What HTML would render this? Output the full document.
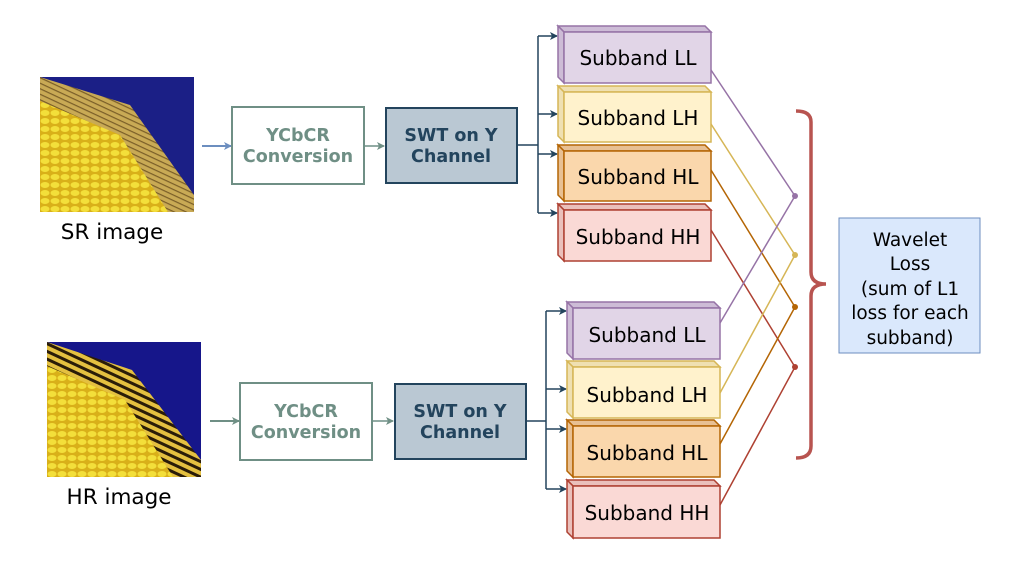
<!DOCTYPE html>
<html><head><meta charset="utf-8"><style>
html,body{margin:0;padding:0;background:#fff;}
svg{display:block;font-family:"DejaVu Sans","Liberation Sans",sans-serif;}
</style></head><body>
<svg width="1016" height="562" viewBox="0 0 1016 562" xmlns="http://www.w3.org/2000/svg">
<defs>
<pattern id="tiles" width="10" height="8" patternUnits="userSpaceOnUse">
<rect width="10" height="8" fill="#d9b019"/>
<ellipse cx="5" cy="4" rx="4.5" ry="3" fill="#f3df3a"/>
</pattern>
<pattern id="stripes" width="5" height="5" patternUnits="userSpaceOnUse" patternTransform="rotate(25)">
<rect width="5" height="5" fill="#c9aa55"/><rect width="5" height="1.2" fill="#7a5e28"/>
</pattern>
<pattern id="stripes2" width="7" height="7" patternUnits="userSpaceOnUse" patternTransform="rotate(25)">
<rect width="7" height="7" fill="#e4c040"/><rect width="7" height="3" fill="#2a1c08"/>
</pattern>
<marker id="ab" markerWidth="8" markerHeight="8" refX="7" refY="4" orient="auto" markerUnits="userSpaceOnUse"><path d="M0,0 L8,4 L0,8 L2,4Z" fill="#6c8ebf"/></marker>
<marker id="ag" markerWidth="8" markerHeight="8" refX="7" refY="4" orient="auto" markerUnits="userSpaceOnUse"><path d="M0,0 L8,4 L0,8 L2,4Z" fill="#6f8f85"/></marker>
<marker id="ad" markerWidth="8" markerHeight="8" refX="7" refY="4" orient="auto" markerUnits="userSpaceOnUse"><path d="M0,0 L8,4 L0,8 L2,4Z" fill="#23445d"/></marker>
</defs>

<g transform="translate(40,77)">
<rect width="154" height="135" fill="#1b1f86"/>
<polygon points="0,0 90,28 154,118 154,135 0,135" fill="url(#stripes)"/>
<polygon points="0,24 80,58 128,135 0,135" fill="url(#tiles)"/>
</g>
<text x="112" y="239" font-size="21.5" text-anchor="middle" fill="#000">SR image</text>

<g transform="translate(47,342)">
<rect width="154" height="135" fill="#16168a"/>
<polygon points="0,0 85,28 154,118 154,135 0,135" fill="url(#stripes2)"/>
<polygon points="0,24 78,58 126,135 0,135" fill="url(#tiles)"/>
</g>
<text x="119" y="504" font-size="21.5" text-anchor="middle" fill="#000">HR image</text>

<line x1="202" y1="146" x2="231" y2="146" stroke="#6c8ebf" stroke-width="2" marker-end="url(#ab)"/>
<rect x="232" y="107" width="132" height="77" fill="#fff" stroke="#6f8f85" stroke-width="2"/>
<text x="298" y="141" font-size="17.5" font-weight="bold" fill="#6f8f85" text-anchor="middle">YCbCR</text>
<text x="298" y="162" font-size="17.5" font-weight="bold" fill="#6f8f85" text-anchor="middle">Conversion</text>
<line x1="364" y1="146" x2="384" y2="146" stroke="#6f8f85" stroke-width="1.5" marker-end="url(#ag)"/>
<rect x="386" y="108" width="131" height="75" fill="#bac8d3" stroke="#23445d" stroke-width="2"/>
<text x="451" y="141" font-size="17.5" font-weight="bold" fill="#23445d" text-anchor="middle">SWT on Y</text>
<text x="451" y="162" font-size="17.5" font-weight="bold" fill="#23445d" text-anchor="middle">Channel</text>
<g stroke="#23445d" stroke-width="1.5" fill="none">
<polyline points="517,145 538,145"/>
<line x1="538" y1="36" x2="538" y2="213"/>
<line x1="538" y1="36" x2="557" y2="36" marker-end="url(#ad)"/>
<line x1="538" y1="114" x2="557" y2="114" marker-end="url(#ad)"/>
<line x1="538" y1="154" x2="557" y2="154" marker-end="url(#ad)"/>
<line x1="538" y1="213" x2="557" y2="213" marker-end="url(#ad)"/>
</g>

<line x1="210" y1="421" x2="239" y2="421" stroke="#6f8f85" stroke-width="2" marker-end="url(#ag)"/>
<rect x="240" y="383" width="132" height="77" fill="#fff" stroke="#6f8f85" stroke-width="2"/>
<text x="306" y="417" font-size="17.5" font-weight="bold" fill="#6f8f85" text-anchor="middle">YCbCR</text>
<text x="306" y="438" font-size="17.5" font-weight="bold" fill="#6f8f85" text-anchor="middle">Conversion</text>
<line x1="372" y1="421" x2="393" y2="421" stroke="#6f8f85" stroke-width="1.5" marker-end="url(#ag)"/>
<rect x="395" y="384" width="131" height="75" fill="#bac8d3" stroke="#23445d" stroke-width="2"/>
<text x="460" y="417" font-size="17.5" font-weight="bold" fill="#23445d" text-anchor="middle">SWT on Y</text>
<text x="460" y="438" font-size="17.5" font-weight="bold" fill="#23445d" text-anchor="middle">Channel</text>
<g stroke="#23445d" stroke-width="1.5" fill="none">
<polyline points="526,421 546,421"/>
<line x1="546" y1="311" x2="546" y2="489"/>
<line x1="546" y1="311" x2="566" y2="311" marker-end="url(#ad)"/>
<line x1="546" y1="389" x2="566" y2="389" marker-end="url(#ad)"/>
<line x1="546" y1="429" x2="566" y2="429" marker-end="url(#ad)"/>
<line x1="546" y1="489" x2="566" y2="489" marker-end="url(#ad)"/>
</g>

<g stroke-width="1.5" fill="none">
<line x1="711" y1="70" x2="795" y2="196" stroke="#9673a6"/>
<line x1="711" y1="124" x2="795" y2="255" stroke="#d6b656"/>
<line x1="711" y1="170" x2="795" y2="307" stroke="#b46504"/>
<line x1="711" y1="230" x2="795" y2="367" stroke="#ae4132"/>
<line x1="720" y1="323" x2="795" y2="196" stroke="#9673a6"/>
<line x1="720" y1="393" x2="795" y2="255" stroke="#d6b656"/>
<line x1="720" y1="444" x2="795" y2="307" stroke="#b46504"/>
<line x1="720" y1="505" x2="795" y2="367" stroke="#ae4132"/>
</g>
<circle cx="795" cy="196" r="3" fill="#9673a6"/>
<circle cx="795" cy="255" r="3" fill="#d6b656"/>
<circle cx="795" cy="307" r="3" fill="#b46504"/>
<circle cx="795" cy="367" r="3" fill="#ae4132"/>

<g font-size="20" text-anchor="middle" fill="#000">
<g stroke="#9673a6" stroke-width="1.5"><polygon points="558,26 705,26 711,32 564,32" fill="#cdbcd6"/><polygon points="558,26 564,32 564,83 558,77" fill="#cdbcd6"/><rect x="564" y="32" width="147" height="51" fill="#e1d5e7"/></g>
<text x="638" y="65">Subband LL</text>
<g stroke="#d6b656" stroke-width="1.5"><polygon points="558,86 705,86 711,92 564,92" fill="#efe0b2"/><polygon points="558,86 564,92 564,142 558,136" fill="#efe0b2"/><rect x="564" y="92" width="147" height="50" fill="#fff2cc"/></g>
<text x="638" y="125">Subband LH</text>
<g stroke="#b46504" stroke-width="1.5"><polygon points="558,145 705,145 711,151 564,151" fill="#e8c093"/><polygon points="558,145 564,151 564,201 558,195" fill="#e8c093"/><rect x="564" y="151" width="147" height="50" fill="#fad7ac"/></g>
<text x="638" y="184">Subband HL</text>
<g stroke="#ae4132" stroke-width="1.5"><polygon points="558,204 705,204 711,210 564,210" fill="#eac0bb"/><polygon points="558,204 564,210 564,261 558,255" fill="#eac0bb"/><rect x="564" y="210" width="147" height="51" fill="#fad9d5"/></g>
<text x="638" y="244">Subband HH</text>
<g stroke="#9673a6" stroke-width="1.5"><polygon points="567,302 714,302 720,308 573,308" fill="#cdbcd6"/><polygon points="567,302 573,308 573,359 567,353" fill="#cdbcd6"/><rect x="573" y="308" width="147" height="51" fill="#e1d5e7"/></g>
<text x="647" y="342">Subband LL</text>
<g stroke="#d6b656" stroke-width="1.5"><polygon points="567,361 714,361 720,367 573,367" fill="#efe0b2"/><polygon points="567,361 573,367 573,418 567,412" fill="#efe0b2"/><rect x="573" y="367" width="147" height="51" fill="#fff2cc"/></g>
<text x="647" y="402">Subband LH</text>
<g stroke="#b46504" stroke-width="1.5"><polygon points="567,420 714,420 720,426 573,426" fill="#e8c093"/><polygon points="567,420 573,426 573,477 567,471" fill="#e8c093"/><rect x="573" y="426" width="147" height="51" fill="#fad7ac"/></g>
<text x="647" y="460">Subband HL</text>
<g stroke="#ae4132" stroke-width="1.5"><polygon points="567,480 714,480 720,486 573,486" fill="#eac0bb"/><polygon points="567,480 573,486 573,538 567,532" fill="#eac0bb"/><rect x="573" y="486" width="147" height="52" fill="#fad9d5"/></g>
<text x="647" y="520">Subband HH</text>
</g>

<path d="M796,111 Q811,111 811,122 L811,272 Q811,284 826,284 Q811,284 811,296 L811,446 Q811,458 796,458" fill="none" stroke="#b85450" stroke-width="3.5"/>

<rect x="839" y="218" width="141" height="135" fill="#dae8fc" stroke="#6c8ebf" stroke-width="1"/>
<g font-size="18.5" text-anchor="middle" fill="#000">
<text x="910" y="246">Wavelet</text>
<text x="910" y="270">Loss</text>
<text x="910" y="295">(sum of L1</text>
<text x="910" y="319">loss for each</text>
<text x="910" y="344">subband)</text>
</g>
</svg>
</body></html>
